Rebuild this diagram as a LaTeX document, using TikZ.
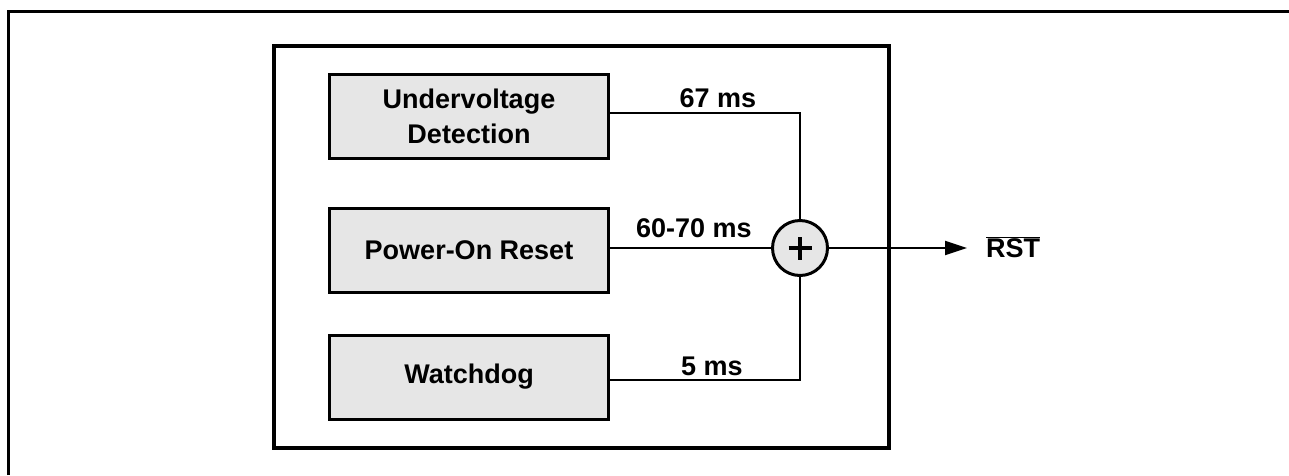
\documentclass[tikz,border=0pt]{standalone}
\usepackage{fontspec}
\setmainfont{Liberation Sans}
\usetikzlibrary{arrows.meta}
\definecolor{boxgray}{RGB}{230,230,230}
\tikzset{
  blk/.style={draw=black, line width=3pt, fill=boxgray, minimum width=279pt, minimum height=84pt, inner sep=0pt, align=center, font=\bfseries\fontsize{27}{35}\selectfont},
  lbl/.style={anchor=base, inner sep=0pt, font=\bfseries\fontsize{27}{33}\selectfont},
  wire/.style={line width=2pt, line cap=rect},
}
\begin{document}
\begin{tikzpicture}[x=1pt, y=-1pt]
\useasboundingbox (0,0) rectangle (1289,475);
% outer frame (only top and left edges are visible)
\draw[line width=3pt] (8,475) -- (8,11) -- (1289,11);
% inner frame
\draw[line width=4pt] (274,46) rectangle (889,448);
% blocks
\node[blk] (uv) at (469,116.5) {Undervoltage\\Detection};
\node[blk] (por) at (469,250) {Power-On Reset};
\node[blk] (wd) at (469,377) {Watchdog};
% summing node
\node[circle, draw=black, line width=3pt, fill=boxgray, minimum size=55pt, inner sep=0pt] (sum) at (800,248) {};
\draw[line width=4pt] ([xshift=-11.5pt]sum.center) -- ([xshift=11.5pt]sum.center);
\draw[line width=4pt] ([yshift=-11.5pt]sum.center) -- ([yshift=11.5pt]sum.center);
% connectors
\draw[line width=2pt] ([yshift=3.5pt]uv.east) -| (sum.north);
\draw[line width=2pt] (por.east |- sum.west) -- (sum.west);
\draw[line width=2pt] ([yshift=-3pt]wd.east) -| (sum.south);
\coordinate (out) at (967,248);
\draw[line width=2pt, -{Triangle[length=22pt,width=14pt]}] (sum.east) -- (out);
% labels
\node[lbl] (l1) at (718,107) {67 ms};
\node[lbl] (l2) at (694,237) {60-70 ms};
\node[lbl] (l3) at (712,375) {5 ms};
\node[anchor=base west, inner sep=0pt, font=\bfseries\fontsize{27}{33}\selectfont] (rst) at (986,257) {$\overline{\hbox{\bfseries RST}}$};
\end{tikzpicture}
\end{document}
